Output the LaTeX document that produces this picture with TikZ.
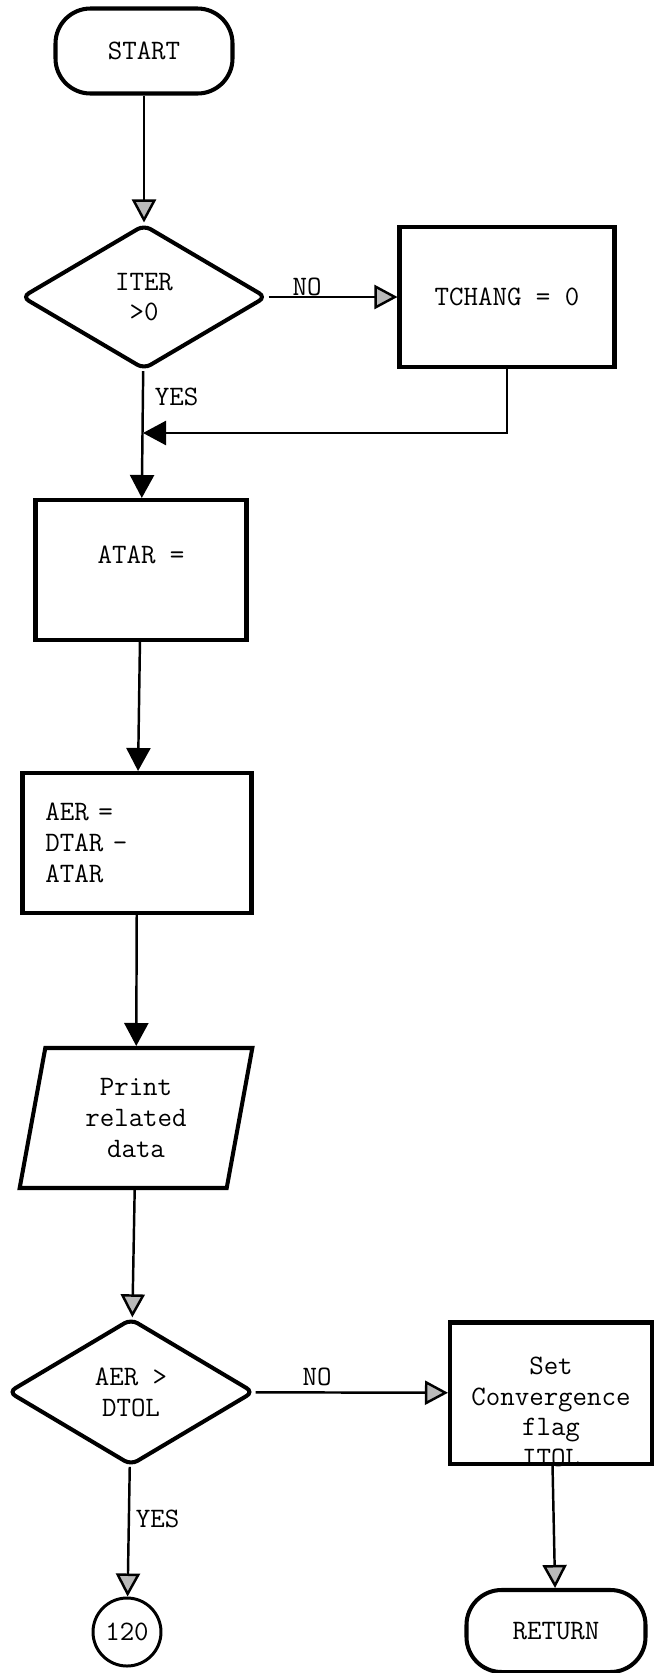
\documentclass[tikz,border=0pt]{standalone}
\usepackage{fontspec}
\usetikzlibrary{arrows.meta,positioning,shapes.geometric}

\begin{document}
\begin{tikzpicture}[
  x=0.2mm, y=-0.2mm,
  every node/.style={font=\fontsize{16}{17.5}\selectfont\ttfamily},
  box/.style={draw, line width=2.3pt, minimum height=28mm, align=center},
  term/.style={box, rounded corners=7mm, minimum height=17mm},
  test/.style={draw, diamond, line width=2.3pt, rounded corners=1.5mm, inner sep=0pt, align=center},
  io/.style={draw, trapezium, trapezium left angle=80, trapezium right angle=100,
    trapezium stretches=true, line width=2.3pt, align=center},
  conn/.style={draw, circle, line width=1.7pt, inner sep=0pt, minimum size=13.6mm},
  arrow/.style={-{Triangle[length=4.6mm, width=4.8mm]}, line width=1.4pt},
  garrow/.style={-{Triangle[length=4.6mm, width=4.8mm, fill=gray!55]}, line width=1.4pt},
]
  \useasboundingbox (0,0) rectangle (654,1673);

  % main column
  \node[term, minimum width=35.4mm] (start) at (144,51) {START};
  \node[test, minimum width=49mm, minimum height=29mm] (iter) at (144,297) {ITER\\>0};
  \node[box, minimum width=43mm] (tchang) at (507,297) {TCHANG = 0};
  \node[box, minimum width=42.2mm] (atar) at (141,570) {ATAR =\\\mbox{}};
  \node[box, minimum width=45.8mm, text width=36.6mm, align=left] (aer) at (137,843) {AER =\\DTAR -\\ATAR\\[1mm]};
  \node[io, minimum width=46.6mm, minimum height=28mm] (print) at (136,1118) {Print\\related\\data};
  \node[test, minimum width=49.2mm, minimum height=29.4mm] (dtol) at (131,1392) {AER >\\DTOL};
  \node[box, minimum width=40.4mm, minimum height=28.2mm,
    label={[align=center, yshift=-3.8mm]center:Set\\Convergence\\flag\\ITOL}] (conv) at (551,1393) {};
  \node[conn] (c120) at (127,1632) {120};
  \node[term, minimum width=35.8mm, minimum height=16.4mm] (ret) at (556,1631) {RETURN};
  \coordinate (join) at (143,433);

  \draw[garrow] (start) -- (iter);
  \draw[garrow] (iter) -- node[above, inner sep=0pt, pos=0.3] {NO} (tchang);
  \draw[arrow] (tchang.south) |- (join);
  \draw[arrow] (iter) -- node[right=1mm, pos=0.2] {YES} (atar);
  \draw[arrow] (atar) -- (aer);
  \draw[arrow] (aer) -- (print);
  \draw[garrow] (print) -- (dtol);
  \draw[garrow] (dtol) -- node[above, pos=0.32] {NO} (conv);
  \draw[garrow] (dtol) -- node[right, pos=0.4] {YES} (c120);
  \draw[garrow] (conv) -- (ret);
\end{tikzpicture}
\end{document}
